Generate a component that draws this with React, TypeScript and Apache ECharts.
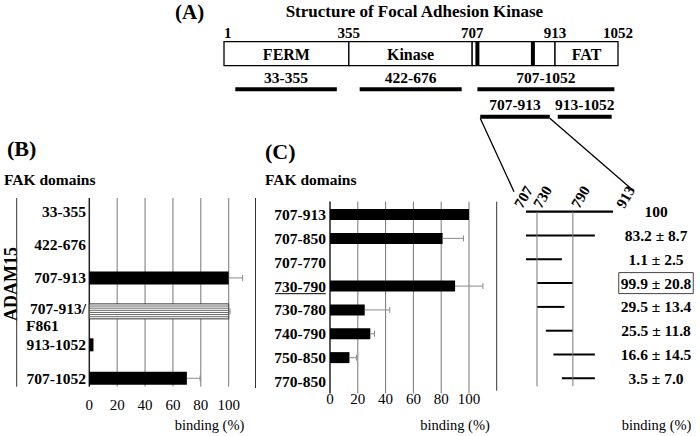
import React, { useEffect, useRef } from 'react';
import * as echarts from 'echarts';

const SERIF = '"Liberation Serif", "Times New Roman", Times, serif';

// ---------- Panel A: structure of FAK ----------
const domainBounds = [1, 355, 707, 913, 1052];
const domainNames = ['FERM', 'Kinase', '', 'FAT'];
const motifMarks = [720, 858];
const constructLabels = ['33-355', '422-676', '707-1052', '707-913', '913-1052'];
const constructFrom = [33, 386, 720, 727, 919];
const constructTo = [321, 677, 1044, 900, 1038];
const constructRow = [0, 0, 0, 1, 1];
// schematic (not to scale) drawing anchors: residue -> drawn position
const schemeResA = [1, 355, 707, 913, 1052];
const schemePosA = [1, 334, 663, 884, 1052];

// ---------- Panel B ----------
const catsB = ['33-355', '422-676', '707-913', '707-913/F861', '913-1052', '707-1052'];
const valuesB = [0, 0, 100, 100, 3, 70];
const errorsB = [0, 0, 10, 1, 0, 9.5];
const hatchedB = ['707-913/F861'];

// ---------- Panel C ----------
const catsC = ['707-913', '707-850', '707-770', '730-790', '730-780', '740-790', '750-850', '770-850'];
const valuesC = [100, 81, 0, 90, 25, 29, 14, 0];
const errorsC = [0, 15, 0, 20, 18, 3, 5, 0];
const underlinedC = ['730-790'];
const bindingTicks = [0, 20, 40, 60, 80, 100];

// ---------- Panel D ----------
const fragStart = [707, 707, 707, 730, 730, 740, 750, 770];
const fragEnd = [913, 850, 770, 790, 780, 790, 850, 850];
const bindingText = ['100', '83.2 ± 8.7', '1.1 ± 2.5', '99.9 ± 20.8', '29.5 ± 13.4', '25.5 ± 11.8', '16.6 ± 14.5', '3.5 ± 7.0'];
const boxedText = ['99.9 ± 20.8'];
const refResidues = [730, 790];
const topResidues = [707, 730, 790, 913];
const schemeResD = [707, 730, 740, 750, 770, 780, 790, 850, 913];
const schemePosD = [707, 733, 754, 772, 792, 798, 818, 870, 913];

// layout-only constants
const topLabelNudge = [-8, 0, 2, 7];

function warp(r: number, res: number[], pos: number[]) {
  for (let i = 0; i < res.length - 1; i++) {
    if (r <= res[i + 1] || i === res.length - 2) {
      const t = (r - res[i]) / (res[i + 1] - res[i]);
      return pos[i] + t * (pos[i + 1] - pos[i]);
    }
  }
  return r;
}
const xA = (r: number) => warp(r, schemeResA, schemePosA);
const xD = (r: number) => warp(r, schemeResD, schemePosD);

function txt(text: string, x: number, y: number, o: any = {}) {
  const align = o.align || 'center';
  return {
    type: 'text',
    x,
    y,
    rotation: o.rot || 0,
    silent: true,
    style: {
      text,
      fill: '#000',
      fontFamily: SERIF,
      fontSize: o.size || 15.5,
      fontWeight: o.bold === false ? 'normal' : 'bold',
      align,
      verticalAlign: 'middle',
      textAlign: align,
      textVerticalAlign: 'middle',
    },
  };
}

const seg = (x1: number, y1: number, x2: number, y2: number, stroke: string, lineWidth: number) => ({
  type: 'line',
  silent: true,
  shape: { x1, y1, x2, y2 },
  style: { stroke, lineWidth },
});

function errorBar(api: any, v: number, e: number, i: number) {
  const [x1, y] = api.coord([v, i]);
  const [x2] = api.coord([v + e, i]);
  return [seg(x1, y, x2, y, '#8a8a8a', 1), seg(x2, y - 3, x2, y + 3, '#8a8a8a', 1)];
}

const labelBase = { color: '#000', fontFamily: SERIF, fontWeight: 'bold', fontSize: 15.5 };

function buildOption() {
  const valueAxis = (gridIndex: number, margin: number) => ({
    gridIndex,
    type: 'value',
    min: 0,
    max: 100,
    interval: 20,
    axisLine: { show: false },
    axisTick: { show: false },
    splitLine: { show: false },
    axisLabel: { color: '#000', fontFamily: SERIF, fontSize: 15, margin },
  });

  return {
    animation: false,
    backgroundColor: '#fff',
    grid: [
      { left: 224, top: 41.7, width: 394, height: 24, outerBoundsMode: 'none' },
      { left: 89.3, top: 194.3, width: 139.4, height: 200.7, outerBoundsMode: 'none' },
      { left: 330, top: 202.6, width: 139, height: 190.8, outerBoundsMode: 'none' },
      { left: 526, top: 199.8, width: 87, height: 190.4, outerBoundsMode: 'none' },
    ],
    xAxis: [
      { gridIndex: 0, type: 'value', min: 1, max: 1052, show: false },
      valueAxis(1, 2),
      valueAxis(2, -1.5),
      { gridIndex: 3, type: 'value', min: 707, max: 913, show: false },
    ],
    yAxis: [
      { gridIndex: 0, type: 'value', min: 0, max: 1, show: false },
      {
        gridIndex: 1,
        type: 'category',
        data: catsB,
        inverse: true,
        axisLine: { show: false },
        axisTick: { show: false },
        axisLabel: {
          ...labelBase,
          interval: 0,
          margin: 3.3,
          formatter: (v: string) => {
            if (v.indexOf('/') >= 0) {
              const [a, b] = v.split('/');
              return '{a2|' + a + '/}\n{b|' + b + '}';
            }
            return '{a|' + v + '}';
          },
          rich: {
            a: { ...labelBase },
            a2: { ...labelBase, lineHeight: 28, verticalAlign: 'bottom' },
            b: { ...labelBase, lineHeight: 18, align: 'left', padding: [0, 0, 0, -4] },
          },
        },
      },
      {
        gridIndex: 2,
        type: 'category',
        data: catsC,
        inverse: true,
        axisLine: { show: false },
        axisTick: { show: false },
        axisLabel: { ...labelBase, interval: 0, margin: 4 },
      },
      {
        gridIndex: 3,
        type: 'category',
        data: bindingText,
        inverse: true,
        position: 'right',
        axisLine: { show: false },
        axisTick: { show: false },
        axisLabel: {
          ...labelBase,
          interval: 0,
          margin: 43,
          align: 'center',
          formatter: (v: string) => (boxedText.indexOf(v) >= 0 ? '{box|' + v + '}' : v),
          rich: {
            box: { ...labelBase, borderColor: '#444', borderWidth: 1, padding: [3, 2, 2, 2] },
          },
        },
      },
    ],
    series: [
      // A: domain boxes
      {
        type: 'custom',
        xAxisIndex: 0,
        yAxisIndex: 0,
        clip: false,
        silent: true,
        data: domainNames.map((_, i) => [domainBounds[i], 0]),
        renderItem: (params: any, api: any) => {
          const i = params.dataIndex;
          const p0 = api.coord([xA(domainBounds[i]), 1]);
          const p1 = api.coord([xA(domainBounds[i + 1]), 0]);
          return {
            type: 'group',
            children: [
              {
                type: 'rect',
                shape: { x: p0[0], y: p0[1], width: p1[0] - p0[0], height: p1[1] - p0[1] },
                style: { fill: '#fff', stroke: '#000', lineWidth: 1.3 },
              },
              txt(domainNames[i], (p0[0] + p1[0]) / 2, (p0[1] + p1[1]) / 2 + 1, { size: 16 }),
            ],
          };
        },
      },
      // A: boundary residue numbers
      {
        type: 'custom',
        xAxisIndex: 0,
        yAxisIndex: 0,
        clip: false,
        silent: true,
        data: domainBounds.map((b) => [b, 1]),
        renderItem: (params: any, api: any) => {
          const i = params.dataIndex;
          const p = api.coord([xA(domainBounds[i]), 1]);
          return txt(String(domainBounds[i]), p[0], p[1] - 8.4, {
            size: 15,
            align: i === 0 ? 'left' : 'center',
          });
        },
      },
      // A: motif marks
      {
        type: 'custom',
        xAxisIndex: 0,
        yAxisIndex: 0,
        clip: false,
        silent: true,
        data: motifMarks.map((m) => [m, 0]),
        renderItem: (params: any, api: any) => {
          const m = motifMarks[params.dataIndex];
          const t = api.coord([xA(m), 1]);
          const b = api.coord([xA(m), 0]);
          return seg(t[0], t[1], b[0], b[1], '#000', 4);
        },
      },
      // A: constructs
      {
        type: 'custom',
        xAxisIndex: 0,
        yAxisIndex: 0,
        clip: false,
        silent: true,
        data: constructLabels.map((_, i) => [constructFrom[i], 0]),
        renderItem: (params: any, api: any) => {
          const i = params.dataIndex;
          const p0 = api.coord([xA(constructFrom[i]), 0]);
          const p1 = api.coord([xA(constructTo[i]), 0]);
          const y = p0[1] + 23.6 + constructRow[i] * 27.4;
          return {
            type: 'group',
            children: [
              { type: 'rect', shape: { x: p0[0], y: y - 2, width: p1[0] - p0[0], height: 4 }, style: { fill: '#000' } },
              txt(constructLabels[i], (p0[0] + p1[0]) / 2, y - 12.3, { size: 15.5 }),
            ],
          };
        },
      },
      // B: grid lines
      {
        type: 'custom',
        xAxisIndex: 1,
        yAxisIndex: 1,
        clip: false,
        silent: true,
        data: bindingTicks.map((t) => [t, 0]),
        renderItem: (params: any, api: any) => {
          const t = bindingTicks[params.dataIndex];
          const cs = params.coordSys;
          const x = api.coord([t, 0])[0];
          return seg(x, cs.y + 3.7, x, cs.y + cs.height - 8.3, t === 0 ? '#222' : '#777', t === 0 ? 1.5 : 1);
        },
      },
      // B: bars
      {
        type: 'custom',
        xAxisIndex: 1,
        yAxisIndex: 1,
        clip: false,
        silent: true,
        data: valuesB.map((v, i) => [v, i]),
        renderItem: (params: any, api: any) => {
          const i = params.dataIndex;
          const v = valuesB[i];
          const children: any[] = [];
          const [x0, y] = api.coord([0, i]);
          const [x1] = api.coord([v, i]);
          const h = 13;
          if (v > 0) {
            if (hatchedB.indexOf(catsB[i]) >= 0) {
              children.push({
                type: 'rect',
                shape: { x: x0, y: y - h / 2 - 1, width: x1 - x0, height: h + 2 },
                style: { fill: '#fff', stroke: '#333', lineWidth: 1 },
              });
              for (let k = 1; k <= 6; k++) {
                const yy = y - h / 2 - 1 + k * ((h + 2) / 7);
                children.push(seg(x0, yy, x1, yy, '#666', 1));
              }
            } else {
              children.push({ type: 'rect', shape: { x: x0, y: y - h / 2, width: x1 - x0, height: h }, style: { fill: '#000' } });
            }
          }
          if (errorsB[i] > 0) children.push(...errorBar(api, v, errorsB[i], i));
          return { type: 'group', children };
        },
      },
      // C: grid lines
      {
        type: 'custom',
        xAxisIndex: 2,
        yAxisIndex: 2,
        clip: false,
        silent: true,
        data: bindingTicks.map((t) => [t, 0]),
        renderItem: (params: any, api: any) => {
          const t = bindingTicks[params.dataIndex];
          const cs = params.coordSys;
          const x = api.coord([t, 0])[0];
          return seg(x, cs.y - 1, x, cs.y + cs.height, t === 0 ? '#222' : '#777', t === 0 ? 1.5 : 1);
        },
      },
      // C: bars
      {
        type: 'custom',
        xAxisIndex: 2,
        yAxisIndex: 2,
        clip: false,
        silent: true,
        data: valuesC.map((v, i) => [v, i]),
        renderItem: (params: any, api: any) => {
          const i = params.dataIndex;
          const v = valuesC[i];
          const children: any[] = [];
          const [x0, y] = api.coord([0, i]);
          const [x1] = api.coord([v, i]);
          const h = 11;
          if (v > 0) {
            children.push({ type: 'rect', shape: { x: x0, y: y - h / 2, width: x1 - x0, height: h }, style: { fill: '#000' } });
          }
          if (errorsC[i] > 0) children.push(...errorBar(api, v, errorsC[i], i));
          if (underlinedC.indexOf(catsC[i]) >= 0) {
            children.push(seg(x0 - 55, y + 7.6, x0 - 4.3, y + 7.6, '#000', 1));
          }
          return { type: 'group', children };
        },
      },
      // D: fragment segments
      {
        type: 'custom',
        xAxisIndex: 3,
        yAxisIndex: 3,
        clip: false,
        silent: true,
        data: fragStart.map((s, i) => [s, i]),
        renderItem: (params: any, api: any) => {
          const i = params.dataIndex;
          const p0 = api.coord([xD(fragStart[i]), i]);
          const p1 = api.coord([xD(fragEnd[i]), i]);
          return seg(p0[0], p0[1], p1[0], p1[1], '#000', i === 0 ? 2.3 : 2);
        },
      },
      // D: reference lines
      {
        type: 'custom',
        xAxisIndex: 3,
        yAxisIndex: 3,
        clip: false,
        silent: true,
        data: refResidues.map((r) => [r, 0]),
        renderItem: (params: any, api: any) => {
          const r = refResidues[params.dataIndex];
          const cs = params.coordSys;
          const p = api.coord([xD(r), 0]);
          return seg(p[0], p[1], p[0], cs.y + cs.height - 4, '#777', 1);
        },
      },
      // D: rotated residue labels
      {
        type: 'custom',
        xAxisIndex: 3,
        yAxisIndex: 3,
        clip: false,
        silent: true,
        data: topResidues.map((r) => [r, 0]),
        renderItem: (params: any, api: any) => {
          const i = params.dataIndex;
          const p = api.coord([xD(topResidues[i]), 0]);
          return txt(String(topResidues[i]), p[0] + topLabelNudge[i], p[1] - 5, {
            size: 15,
            align: 'left',
            rot: Math.PI / 3,
          });
        },
      },
    ],
  };
}

export default function App() {
  const ref = useRef<HTMLDivElement>(null);
  useEffect(() => {
    const chart = echarts.init(ref.current as HTMLDivElement, null, { renderer: 'svg' });
    chart.setOption(buildOption() as any);

    const a0 = chart.convertToPixel({ xAxisIndex: 0, yAxisIndex: 0 } as any, [xA(constructFrom[3]), 0]) as number[];
    const a1 = chart.convertToPixel({ xAxisIndex: 0, yAxisIndex: 0 } as any, [xA(constructTo[3]), 0]) as number[];
    const yBar = a0[1] + 23.6 + constructRow[3] * 27.4 + 1.5;
    const d0 = chart.convertToPixel({ xAxisIndex: 3, yAxisIndex: 3 } as any, [xD(707), 0]) as number[];
    const d1 = chart.convertToPixel({ xAxisIndex: 3, yAxisIndex: 3 } as any, [xD(913), 0]) as number[];

    const elements: any[] = [
      txt('(A)', 175, 12, { size: 21, align: 'left' }),
      txt('Structure of Focal Adhesion Kinase', 414.4, 11, { size: 17 }),
      txt('(B)', 7, 148, { size: 22, align: 'left' }),
      txt('(C)', 265, 151.7, { size: 22, align: 'left' }),
      txt('FAK domains', 4, 179.3, { size: 15.5, align: 'left' }),
      txt('FAK domains', 265, 179.3, { size: 15.5, align: 'left' }),
      txt('ADAM15', 10.5, 284, { size: 18, rot: Math.PI / 2 }),
      txt('binding (%)', 209.5, 425, { size: 14.5, bold: false }),
      txt('binding (%)', 455, 425, { size: 14.5, bold: false }),
      txt('binding (%)', 656.6, 425, { size: 14.5, bold: false }),
      seg(16.7, 198, 16.7, 386.7, '#333', 1),
      seg(255.5, 198, 255.5, 388, '#333', 1),
      seg(496.7, 201.7, 496.7, 390.7, '#333', 1),
      seg(a0[0], yBar, d0[0] - 12, d0[1] - 20, '#000', 1.3),
      seg(a1[0], yBar, d1[0] + 19.7, d1[1] - 21.7, '#000', 1.3),
    ];
    chart.setOption({ graphic: [{ elements }] } as any);
    return () => chart.dispose();
  }, []);
  return (
    <div
      ref={ref}
      style={{ position: 'absolute', left: 0, top: 0, width: 700, height: 436, background: '#fff' }}
    />
  );
}
